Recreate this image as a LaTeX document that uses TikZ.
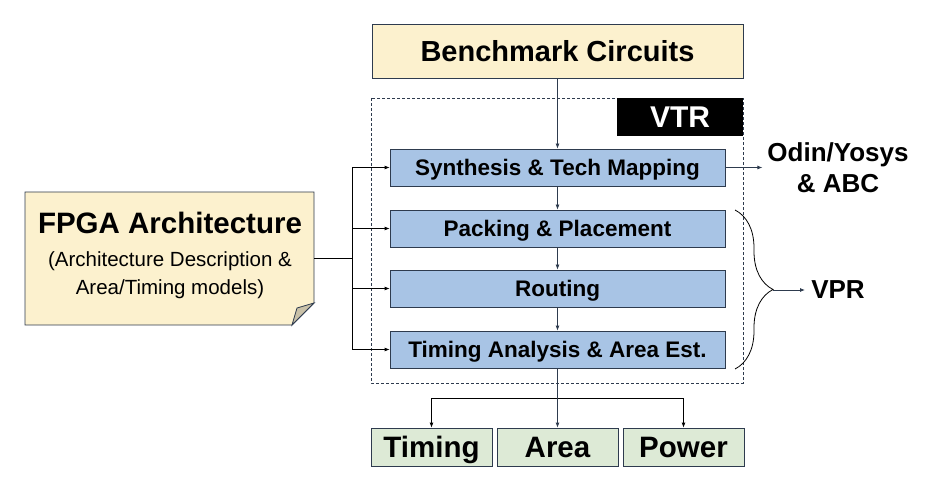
\documentclass[tikz,border=0pt]{standalone}
\usepackage{fontspec}
\setmainfont{Liberation Sans}
\usetikzlibrary{arrows.meta,decorations.pathreplacing}

\definecolor{edge}{HTML}{2E3B4E}
\definecolor{noteyellow}{HTML}{FCF1CE}
\definecolor{stageblue}{HTML}{A8C4E5}
\definecolor{resultgreen}{HTML}{DDEAD6}
\definecolor{foldgray}{HTML}{C9C1A8}

\begin{document}
\begin{tikzpicture}[x=1pt,y=-1pt,
	line width=0.8pt,
	>={Latex[length=5pt,width=4pt]},
	stage/.style={draw=edge,fill=stageblue,minimum width=335pt,minimum height=37pt,
		inner sep=0pt,text height=16pt,text depth=0pt,
		font=\bfseries\fontsize{22.5}{26}\selectfont},
	result/.style={draw=edge,fill=resultgreen,minimum width=121pt,minimum height=38pt,
		inner sep=0pt,text height=21pt,text depth=0pt,
		font=\bfseries\fontsize{29.5}{32}\selectfont},
	label/.style={align=center,font=\bfseries\fontsize{26}{31}\selectfont}]
	\useasboundingbox (0,0) rectangle (942,478);

	% VTR frame
	\draw [edge,dash pattern=on 3pt off 2pt] (371,98) rectangle (743,383);
	\node [fill=black,text=white,minimum width=126pt,minimum height=38pt,inner sep=0pt,
		font=\bfseries\fontsize{30}{34}\selectfont] (vtrtag) at (680,117) {VTR};

	% inputs
	\node [draw=edge,fill=noteyellow,minimum width=371pt,minimum height=54pt,inner sep=0pt,
		font=\bfseries\fontsize{29}{34}\selectfont] (bench) at (557.5,51) {Benchmark Circuits};
	\filldraw [draw=edge,fill=noteyellow]
	(25,192) -- (314,192) -- (314,303) -- (292,325) -- (25,325) -- cycle;
	\filldraw [draw=edge,fill=foldgray]
	(292,325) -- (297,308) -- (314,303) -- cycle;
	\node [align=center,inner sep=0pt,font=\fontsize{20.5}{28}\selectfont] (arch) at (170,255)
	{
		{\bfseries\fontsize{29.5}{28}\selectfont FPGA Architecture}\\[5pt]
		(Architecture Description \&\\
		Area/Timing models)
	};
	\coordinate (archout) at (314,258);

	% flow stages
	\node [stage] (synth) at (557.5,167.5) {Synthesis \& Tech Mapping};
	\node [stage] (pack) at (557.5,228.5) {Packing \& Placement};
	\node [stage] (route) at (557.5,288.5) {Routing};
	\node [stage] (sta) at (557.5,349.5) {Timing Analysis \& Area Est.};

	% results
	\node [result] (timing) at (431.5,447) {Timing};
	\node [result] (area) at (557.5,447) {Area};
	\node [result] (power) at (683.5,447) {Power};

	% tools
	\node [label] (odin) at (838,168) {Odin/Yosys\\\& ABC};
	\node [label] (vpr) at (838,290) {VPR};

	% connectors
	\draw [edge,->] (bench) -- (synth);
	\draw [edge,->] (synth) -- (pack);
	\draw [edge,->] (pack) -- (route);
	\draw [edge,->] (route) -- (sta);

	\coordinate (bus) at (352,258);
	\draw (archout) -- (bus);
	\draw [->] (bus) |- (synth.west);
	\draw [->] (bus) |- (pack.west);
	\draw [->] (bus) |- (route.west);
	\draw [->] (bus) |- (sta.west);

	\coordinate (split) at (557.5,398);
	\draw [edge] (sta) -- (split);
	\draw [->] (split) -| (timing.north);
	\draw [edge,->] (split) -- (area.north);
	\draw [->] (split) -| (power.north);

	\draw [edge,->] (synth.east) -- ++(37,0);
	\draw [decorate,decoration={brace,amplitude=38pt,aspect=0.5}]
	(735,210) -- (735,369);
	\coordinate (bracetip) at (773,290);
	\draw [edge,->] (bracetip) -- ++(32,0);
\end{tikzpicture}
\end{document}
